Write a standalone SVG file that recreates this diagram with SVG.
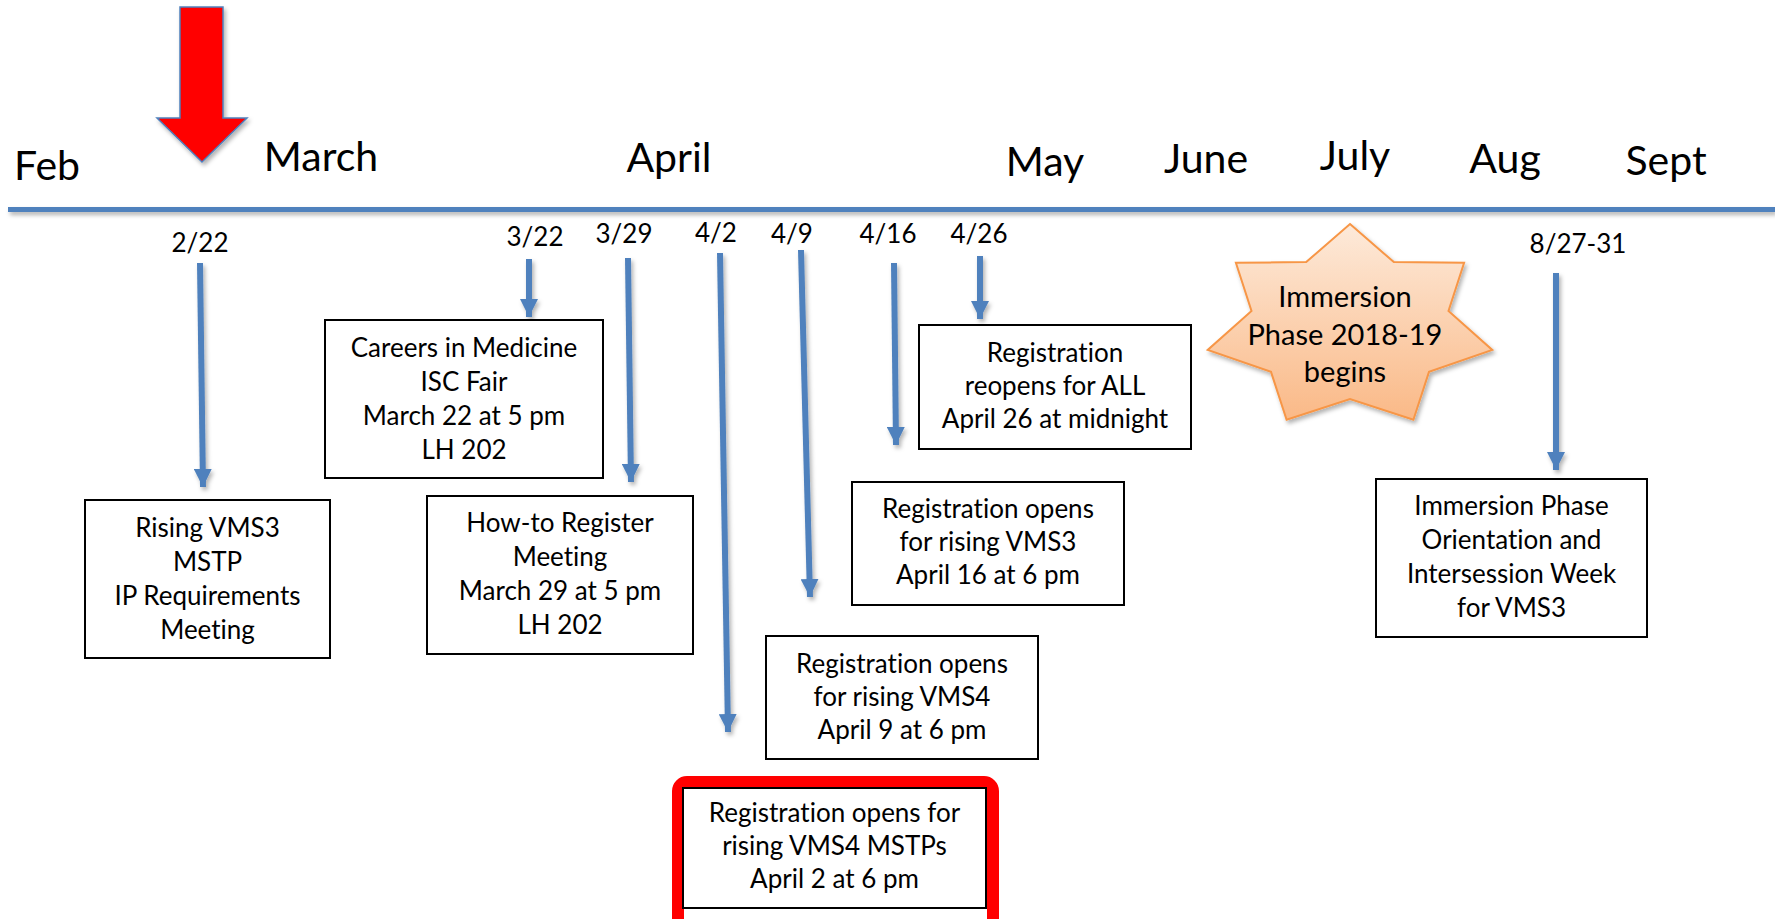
<svg xmlns="http://www.w3.org/2000/svg" width="1775" height="919" viewBox="0 0 1775 919">
  <defs>
    <style>
      text { font-family: "Lato", "Liberation Sans", sans-serif; fill: #000; font-variant-ligatures: none; }
      .month { font-size: 41px; text-anchor: middle; }
      .date { font-size: 26px; text-anchor: middle; }
      .body { font-size: 26px; text-anchor: middle; }
      .star-text { font-size: 29px; text-anchor: middle; }
      .box { fill: #fff; stroke: #000; stroke-width: 2; }
      .conn { stroke: #4F81BD; stroke-width: 6; fill: none; marker-end: url(#head); }
    </style>
    <marker id="head" markerUnits="userSpaceOnUse" markerWidth="18" markerHeight="18" refX="18" refY="9" orient="auto">
      <path d="M0,0 L18,9 L0,18 z" fill="#4F81BD"/>
    </marker>
    <filter id="shadow" filterUnits="userSpaceOnUse" x="0" y="0" width="1775" height="919">
      <feDropShadow dx="2" dy="3" stdDeviation="2" flood-color="#000" flood-opacity="0.3"/>
    </filter>
    <linearGradient id="starFill" x1="0" y1="0" x2="0" y2="1">
      <stop offset="0" stop-color="#FDEADA"/>
      <stop offset="1" stop-color="#FAB987"/>
    </linearGradient>
  </defs>

  <rect width="1775" height="919" fill="#fff"/>

  <!-- timeline axis -->
  <g id="timeline">
    <rect x="8" y="207" width="1767" height="5" fill="#4F81BD" filter="url(#shadow)"/>
    <text class="month" x="47" y="180">Feb</text>
    <text class="month" x="321" y="171">March</text>
    <text class="month" x="669" y="172">April</text>
    <text class="month" x="1045" y="176">May</text>
    <text class="month" x="1206" y="173">June</text>
    <text class="month" x="1355" y="170">July</text>
    <text class="month" x="1505" y="173">Aug</text>
    <text class="month" x="1666" y="175">Sept</text>
  </g>

  <!-- current position marker -->
  <g id="now-marker">
    <polygon points="180,7 223,7 223,118 247,118 202,162 157,118 180,118" fill="#FF0000" stroke="#4F81BD" stroke-width="1.5" stroke-linejoin="miter" filter="url(#shadow)"/>
  </g>

  <!-- date labels -->
  <g id="dates">
    <text class="date" x="200" y="252">2/22</text>
    <text class="date" x="535" y="246">3/22</text>
    <text class="date" x="624" y="243">3/29</text>
    <text class="date" x="716" y="242">4/2</text>
    <text class="date" x="792" y="243">4/9</text>
    <text class="date" x="888" y="243">4/16</text>
    <text class="date" x="979" y="243">4/26</text>
    <text class="date" x="1578" y="253">8/27-31</text>
  </g>

  <!-- connectors -->
  <g id="connectors" filter="url(#shadow)">
    <line class="conn" x1="200" y1="263" x2="203" y2="487"/>
    <line class="conn" x1="529" y1="259" x2="529" y2="317"/>
    <line class="conn" x1="628" y1="258" x2="631" y2="482"/>
    <line class="conn" x1="720" y1="253" x2="728" y2="732"/>
    <line class="conn" x1="801" y1="250" x2="810" y2="597"/>
    <line class="conn" x1="894" y1="263" x2="896" y2="445"/>
    <line class="conn" x1="980" y1="256" x2="980" y2="319"/>
    <line class="conn" x1="1556" y1="273" x2="1556" y2="470"/>
  </g>

  <g id="ip-requirements">
    <rect class="box" x="85" y="500" width="245" height="158"/>
    <text class="body" x="207.5" y="537">Rising VMS3</text>
    <text class="body" x="207.5" y="571">MSTP</text>
    <text class="body" x="207.5" y="605">IP Requirements</text>
    <text class="body" x="207.5" y="639">Meeting</text>
  </g>

  <g id="careers-fair">
    <rect class="box" x="325" y="320" width="278" height="158"/>
    <text class="body" x="464" y="357">Careers in Medicine</text>
    <text class="body" x="464" y="391">ISC Fair</text>
    <text class="body" x="464" y="425">March 22 at 5 pm</text>
    <text class="body" x="464" y="459">LH 202</text>
  </g>

  <g id="how-to-register">
    <rect class="box" x="427" y="496" width="266" height="158"/>
    <text class="body" x="560" y="532">How-to Register</text>
    <text class="body" x="560" y="566">Meeting</text>
    <text class="body" x="560" y="600">March 29 at 5 pm</text>
    <text class="body" x="560" y="634">LH 202</text>
  </g>

  <g id="vms4-mstp">
    <rect x="678" y="782" width="315" height="155" rx="9" fill="none" stroke="#FF0000" stroke-width="12"/>
    <rect class="box" x="683" y="788" width="303" height="120"/>
    <text class="body" x="834.5" y="822">Registration opens for</text>
    <text class="body" x="834.5" y="855">rising VMS4 MSTPs</text>
    <text class="body" x="834.5" y="888">April 2 at 6 pm</text>
  </g>

  <g id="vms4">
    <rect class="box" x="766" y="636" width="272" height="123"/>
    <text class="body" x="902" y="673">Registration opens</text>
    <text class="body" x="902" y="706">for rising VMS4</text>
    <text class="body" x="902" y="739">April 9 at 6 pm</text>
  </g>

  <g id="vms3">
    <rect class="box" x="852" y="482" width="272" height="123"/>
    <text class="body" x="988" y="518">Registration opens</text>
    <text class="body" x="988" y="551">for rising VMS3</text>
    <text class="body" x="988" y="584">April 16 at 6 pm</text>
  </g>

  <g id="reopens-all">
    <rect class="box" x="919" y="325" width="272" height="124"/>
    <text class="body" x="1055" y="362">Registration</text>
    <text class="body" x="1055" y="395">reopens for ALL</text>
    <text class="body" x="1055" y="428">April 26 at midnight</text>
  </g>

  <g id="immersion-begins">
    <polygon points="1350,224 1393.8,262.1 1464.1,262.8 1448.5,311 1492.3,349.9 1429,371.9 1413.4,419.8 1350,399 1286.6,419.8 1271,371.9 1207.7,349.9 1251.5,311 1235.9,262.8 1306.2,262.1" fill="url(#starFill)" stroke="#F79646" stroke-width="2" stroke-linejoin="miter" filter="url(#shadow)"/>
    <text class="star-text" x="1345" y="307">Immersion</text>
    <text class="star-text" x="1345" y="345">Phase 2018-19</text>
    <text class="star-text" x="1345" y="382">begins</text>
  </g>

  <g id="orientation">
    <rect class="box" x="1376" y="479" width="271" height="158"/>
    <text class="body" x="1511.5" y="515">Immersion Phase</text>
    <text class="body" x="1511.5" y="549">Orientation and</text>
    <text class="body" x="1511.5" y="583">Intersession Week</text>
    <text class="body" x="1511.5" y="617">for VMS3</text>
  </g>
</svg>
